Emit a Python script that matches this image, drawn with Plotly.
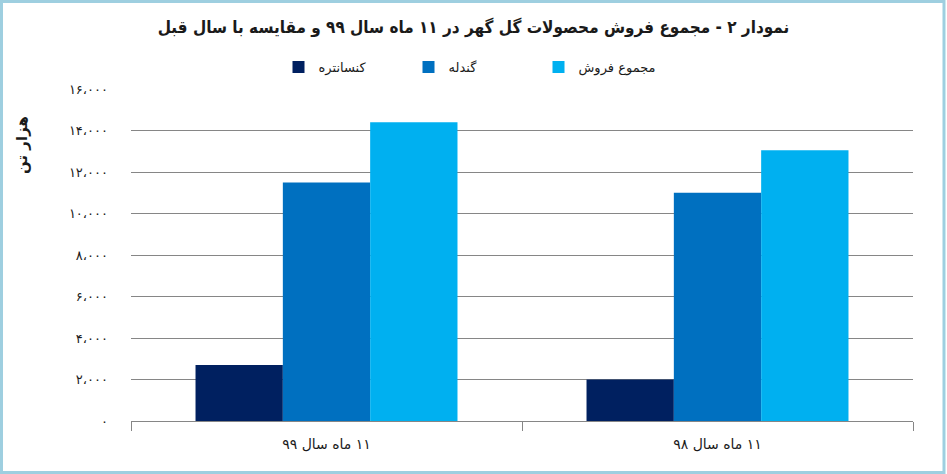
import plotly.graph_objs as go

# data (thousand tonnes)
categories = ["۱۱ ماه سال ۹۹", "۱۱ ماه سال ۹۸"]
concentrate = [2700, 2000]
pellet = [11500, 11000]
total_sales = [14400, 13050]

series_names = ["کنسانتره", "گندله", "مجموع فروش"]
series_colors = ["#002060", "#0070C0", "#00B0F0"]

y_tick_values = [0, 2000, 4000, 6000, 8000, 10000, 12000, 14000, 16000]
y_tick_labels = ["۰", "۲،۰۰۰", "۴،۰۰۰", "۶،۰۰۰", "۸،۰۰۰", "۱۰،۰۰۰", "۱۲،۰۰۰", "۱۴،۰۰۰", "۱۶،۰۰۰"]

title_text = "نمودار ۲ - مجموع فروش محصولات گل گهر در ۱۱ ماه سال ۹۹ و مقایسه با سال قبل"
y_title_text = "هزار تن"

W, H = 947, 474
margin = dict(l=131, r=34, t=89, b=53)
font_family = "DejaVu Sans, Noto Sans, sans-serif"


def rtl(text):
    # wrap in a right-to-left embedding so the digits land on the correct side
    return "\u202B" + text + "\u202C"


def get_figure():
    figure = go.Figure()
    x_labels = [rtl(c) for c in categories]
    for name, values, color in zip(series_names, [concentrate, pellet, total_sales], series_colors):
        figure.add_trace(go.Bar(x=x_labels, y=values, name=rtl(name),
                                marker=dict(color=color, line=dict(width=0))))

    plot_w = W - margin["l"] - margin["r"]
    plot_h = H - margin["t"] - margin["b"]

    figure.update_layout(
        width=W, height=H, margin=margin,
        paper_bgcolor="white", plot_bgcolor="white",
        font=dict(family=font_family, color="#1a1a1a"),
        barmode="group", bargap=0.33, bargroupgap=0,
        title=dict(text=rtl(title_text), x=0.5, xref="container", y=1 - 27 / H, yanchor="middle",
                   font=dict(size=17, family="DejaVu Sans Condensed, DejaVu Sans, sans-serif",
                             weight="bold", color="#1a1a1a")),
        # legend centred on the whole picture, not on the plot area
        legend=dict(orientation="h", x=(W / 2 - margin["l"]) / plot_w, xanchor="center", xref="paper",
                    y=1 + 22 / plot_h, yanchor="middle", font=dict(size=13),
                    itemwidth=30, entrywidth=85, traceorder="normal"),
        showlegend=True,
    )
    figure.update_xaxes(
        type="category", showline=True, linecolor="#868686", linewidth=1,
        ticks="outside", tickson="boundaries", ticklen=9, tickcolor="#868686",
        ticklabelstandoff=10,
        tickfont=dict(size=14, color="#1a1a1a"), showgrid=False,
    )
    figure.update_yaxes(
        range=[0, 16000], tickvals=y_tick_values, ticktext=[rtl(t) for t in y_tick_labels],
        showgrid=True, gridcolor="#868686", gridwidth=1, zeroline=False,
        showline=False, ticks="", ticklabelstandoff=22,
        tickfont=dict(size=13, color="#1a1a1a"),
    )
    # y axis title sits near the top, like the original
    figure.add_annotation(text=rtl(y_title_text), textangle=-90, showarrow=False,
                          xref="paper", yref="paper",
                          x=-(131 - 22) / plot_w, y=1 - (145 - margin["t"]) / plot_h,
                          xanchor="center", yanchor="middle",
                          font=dict(size=15, weight="bold", color="#1a1a1a"))
    # light blue frame around the whole picture
    figure.add_shape(type="rect", xref="paper", yref="paper",
                     x0=-(margin["l"] - 1.5) / plot_w, x1=1 + (margin["r"] - 3) / plot_w,
                     y0=-(margin["b"] - 1.5) / plot_h, y1=1 + (margin["t"] - 1.5) / plot_h,
                     line=dict(color="#9ECFE0", width=3), layer="above")
    return figure


fig = get_figure()
fig.write_html("out.html", config={"displayModeBar": False},
               post_script="document.body.style.margin='0';")
